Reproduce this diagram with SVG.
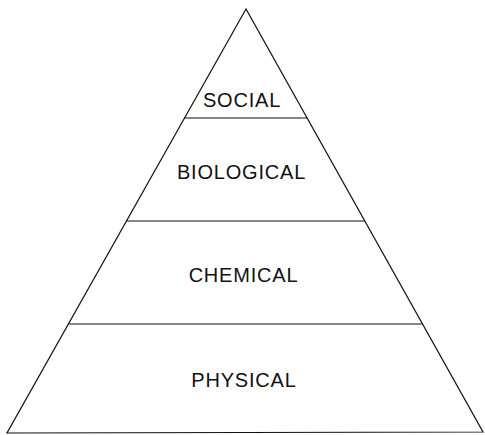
<svg xmlns="http://www.w3.org/2000/svg" width="485" height="435" viewBox="0 0 485 435">
<style>
.edge{stroke:#111;stroke-width:1.2;fill:none;stroke-linejoin:miter}
.lbl{font-family:"Liberation Sans",Arial,sans-serif;font-size:20px;letter-spacing:0.8px;fill:#111;text-anchor:middle}
</style>
<rect width="485" height="435" fill="#fff"/>
<g id="pyramid">
<polygon class="edge" points="246,9 7,433 483,432"/>
</g>
<g id="dividers">
<line class="edge" x1="184.6" y1="118" x2="307.1" y2="118"/>
<line class="edge" x1="126.5" y1="221" x2="364.8" y2="221"/>
<line class="edge" x1="68.4" y1="324" x2="422.5" y2="324"/>
</g>
<g id="social"><text class="lbl" x="242" y="107">SOCIAL</text></g>
<g id="biological"><text class="lbl" x="241.5" y="179">BIOLOGICAL</text></g>
<g id="chemical"><text class="lbl" x="243.5" y="282">CHEMICAL</text></g>
<g id="physical"><text class="lbl" x="244" y="387">PHYSICAL</text></g>
</svg>
